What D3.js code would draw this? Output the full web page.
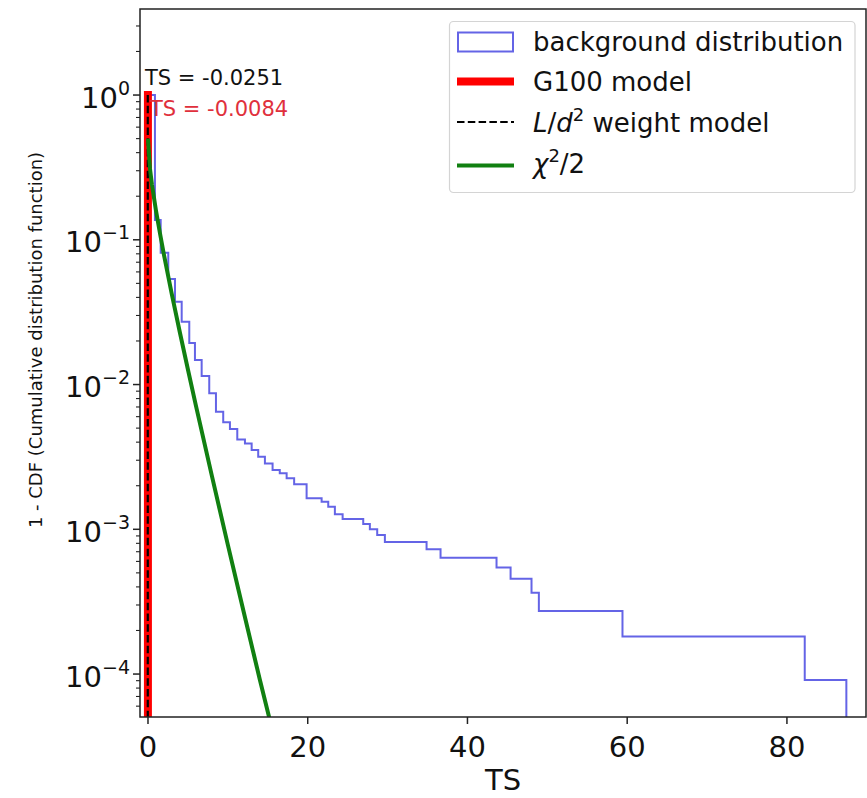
<!DOCTYPE html>
<html>
<head>
<meta charset="utf-8">
<script src="https://cdn.jsdelivr.net/npm/d3@7"></script>
<style>
  html, body { margin: 0; padding: 0; background: #fff; }
  svg { display: block; font-family: "DejaVu Sans", sans-serif; }
</style>
</head>
<body>
<svg id="chart" width="867" height="798"></svg>
<script>
// ---- data ----
// background distribution: 1 - CDF step histogram (bin edges in TS, value per bin)
const bgEdges = [-0.16, 0.87, 1.59, 2.54, 3.38, 4.22, 5.17, 5.88, 6.72, 7.67, 8.51, 9.42, 10.26, 11.18,
  12.14, 12.98, 13.80, 14.64, 15.60, 16.50, 17.36, 18.30, 19.86, 21.74, 22.57, 23.40, 24.37, 26.95,
  27.78, 28.70, 29.66, 34.88, 36.63, 43.64, 45.40, 48.02, 48.94, 59.41, 82.23, 87.44];
const bgValues = [1.0, 0.137, 0.0814, 0.0536, 0.0373, 0.0272, 0.0194, 0.0148, 0.01145, 0.00869,
  0.00649, 0.00548, 0.00493, 0.00418, 0.00392, 0.00353, 0.00317, 0.00285, 0.00257, 0.00244,
  0.00225, 0.00205, 0.00164, 0.00155, 0.00143, 0.00127, 0.00118, 0.00109, 0.00100, 0.000913,
  0.000818, 0.000727, 0.000636, 0.000545, 0.000455, 0.000364, 0.000273, 0.000182, 0.0000909];
const chiTS  = [0, 0.25, 0.5, 1, 1.5, 2, 3, 4, 5, 6, 8, 10, 12, 14, 15.5];
const chiVal = [0.5, 0.31, 0.24, 0.159, 0.111, 0.0786, 0.0417, 0.0228, 0.0127, 0.00715, 0.00234,
  0.00078, 0.000266, 0.0000916, 0.0000424];
// observed TS values of the two models
const modelNames = ["G100 model", "L/d2 weight model"];
const modelTS = [-0.0084, -0.0251];
const modelTop = [1.0, 1.0];
// axis ticks
const xTicks = [0, 20, 40, 60, 80];
const yMajorExp = [0, -1, -2, -3, -4];
const legendLabels = ["background distribution", "G100 model", "L/d² weight model", "χ²/2"];

// ---- layout ----
const svg = d3.select("#chart");
const L = 140, R = 866, T = 9, B = 717;
const x = d3.scaleLinear().domain([-1.0, 89.9]).range([L, R]);
const y = d3.scaleLog().domain([5.05e-5, 3.93]).range([B, T]);

const defs = svg.append("defs");
defs.append("clipPath").attr("id", "clip").append("rect")
  .attr("x", L).attr("y", T).attr("width", R - L).attr("height", B - T);

const plot = svg.append("g").attr("clip-path", "url(#clip)");

// background histogram (step outline)
const stepPts = [[bgEdges[0], y.domain()[0] * 0.5]];
bgValues.forEach((v, i) => { stepPts.push([bgEdges[i], v]); stepPts.push([bgEdges[i + 1], v]); });
stepPts.push([bgEdges[bgEdges.length - 1], y.domain()[0] * 0.5]);
plot.append("path")
  .attr("d", d3.line().x(d => x(d[0])).y(d => y(d[1]))(stepPts))
  .attr("fill", "none").attr("stroke", "#6464e6").attr("stroke-width", 2);

// G100 model (red)
plot.append("path")
  .attr("d", d3.line().x(d => x(d[0])).y(d => y(d[1]))([[modelTS[0], y.domain()[0] * 0.5], [modelTS[0], modelTop[0]]]))
  .attr("stroke", "#ff0000").attr("stroke-width", 8).attr("stroke-linecap", "square").attr("fill", "none");

// L/d^2 weight model (black dashed)
plot.append("path")
  .attr("d", d3.line().x(d => x(d[0])).y(d => y(d[1]))([[modelTS[1], modelTop[1]], [modelTS[1], y.domain()[0] * 0.5]]))
  .attr("stroke", "#000").attr("stroke-width", 2.2).attr("stroke-dasharray", "7.5,3.3").attr("fill", "none");

// chi^2/2 (green)
plot.append("path")
  .attr("d", d3.line().x((d, i) => x(chiTS[i])).y((d, i) => y(chiVal[i]))(chiTS))
  .attr("fill", "none").attr("stroke", "#118011").attr("stroke-width", 4);

// ---- axes ----
const axisCol = "#222";
// x ticks
const xa = svg.append("g");
xTicks.forEach(t => {
  xa.append("line").attr("x1", x(t)).attr("x2", x(t)).attr("y1", B).attr("y2", B + 7)
    .attr("stroke", axisCol).attr("stroke-width", 1.5);
  xa.append("text").attr("x", x(t)).attr("y", 757).attr("text-anchor", "middle")
    .attr("font-size", 29).attr("fill", "#111").text(t);
});
// y ticks
const ya = svg.append("g");
const [ymin, ymax] = y.domain();
for (let e = -5; e <= 0; e++) {
  for (let m = 1; m <= 9; m++) {
    const v = m * Math.pow(10, e);
    if (v < ymin || v > ymax) continue;
    const major = m === 1;
    ya.append("line").attr("x1", L).attr("x2", L - (major ? 7 : 4))
      .attr("y1", y(v)).attr("y2", y(v)).attr("stroke", axisCol).attr("stroke-width", major ? 1.5 : 1.1);
  }
}
yMajorExp.forEach(e => {
  const v = Math.pow(10, e);
  const t = ya.append("text").attr("x", 130).attr("y", y(v) + 12.5).attr("text-anchor", "end")
    .attr("font-size", 29).attr("fill", "#111");
  t.append("tspan").text("10");
  t.append("tspan").attr("dy", -13).attr("font-size", 19).text(e === 0 ? "0" : "−" + (-e));
});

// spines
svg.append("rect").attr("x", L).attr("y", T).attr("width", R - L).attr("height", B - T)
  .attr("fill", "none").attr("stroke", axisCol).attr("stroke-width", 1.5);

// axis labels
svg.append("text").attr("x", (L + R) / 2).attr("y", 790).attr("text-anchor", "middle")
  .attr("font-size", 29).attr("fill", "#111").text("TS");
svg.append("text").attr("transform", `translate(42,340) rotate(-90)`)
  .attr("text-anchor", "middle").attr("font-size", 18).attr("fill", "#111")
  .text("1 - CDF (Cumulative distribution function)");

// annotations
svg.append("text").attr("x", 145).attr("y", 85).attr("font-size", 21).attr("fill", "#111")
  .text("TS = " + modelTS[1]);
svg.append("text").attr("x", 150).attr("y", 115.5).attr("font-size", 21).attr("fill", "#e0303c")
  .text("TS = " + modelTS[0]);

// ---- legend ----
const lg = svg.append("g");
lg.append("rect").attr("x", 449.5).attr("y", 21.5).attr("width", 405.5).attr("height", 171).attr("rx", 4)
  .attr("fill", "rgba(255,255,255,0.8)").attr("stroke", "#d4d4d4").attr("stroke-width", 1.2);
const rows = [51, 91, 131.5, 173];
const hx0 = 457, hx1 = 514;
lg.append("rect").attr("x", hx0 + 1).attr("y", rows[0] - 18.5).attr("width", hx1 - hx0 - 2).attr("height", 19)
  .attr("fill", "none").attr("stroke", "#6464e6").attr("stroke-width", 2);
lg.append("line").attr("x1", hx0).attr("x2", hx1).attr("y1", rows[1] - 9.5).attr("y2", rows[1] - 9.5)
  .attr("stroke", "#ff0000").attr("stroke-width", 8);
lg.append("line").attr("x1", hx0).attr("x2", hx1).attr("y1", rows[2] - 9.5).attr("y2", rows[2] - 9.5)
  .attr("stroke", "#000").attr("stroke-width", 2.2).attr("stroke-dasharray", "7.5,3.3");
lg.append("line").attr("x1", hx0).attr("x2", hx1).attr("y1", rows[3] - 7.5).attr("y2", rows[3] - 7.5)
  .attr("stroke", "#118011").attr("stroke-width", 4);
const fs = 26;
lg.append("text").attr("x", 533).attr("y", rows[0]).attr("font-size", fs).attr("fill", "#111").text(legendLabels[0]);
lg.append("text").attr("x", 533).attr("y", rows[1]).attr("font-size", fs).attr("fill", "#111").text(legendLabels[1]);
const t3 = lg.append("text").attr("x", 533).attr("y", rows[2]).attr("font-size", fs).attr("fill", "#111");
t3.append("tspan").attr("font-style", "italic").text("L");
t3.append("tspan").text("/");
t3.append("tspan").attr("font-style", "italic").text("d");
t3.append("tspan").attr("dy", -11).attr("font-size", 18).text("2");
t3.append("tspan").attr("dy", 11).text(" weight model");
const t4 = lg.append("text").attr("x", 533).attr("y", rows[3]).attr("font-size", fs).attr("fill", "#111");
t4.append("tspan").attr("font-style", "italic").text("χ");
t4.append("tspan").attr("dy", -11).attr("font-size", 18).text("2");
t4.append("tspan").attr("dy", 11).text("/2");
</script>
</body>
</html>
